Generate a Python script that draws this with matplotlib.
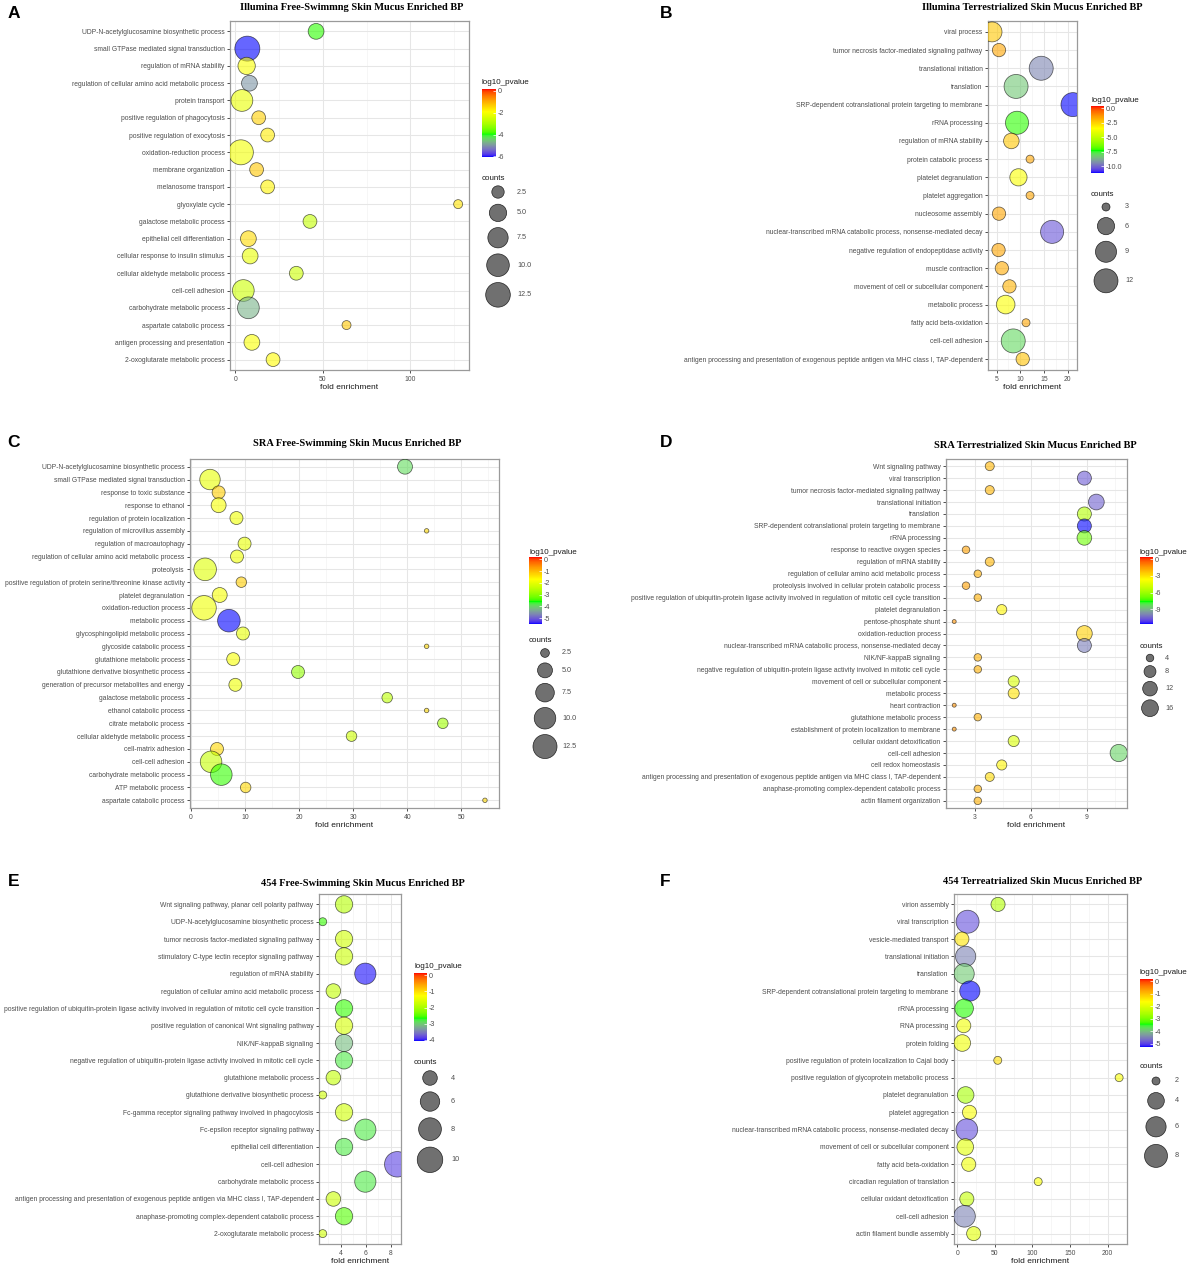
import numpy as np
import matplotlib
matplotlib.use("Agg")
import matplotlib.pyplot as plt
from matplotlib.colors import ListedColormap, Normalize
from matplotlib.cm import ScalarMappable

plt.rcParams['font.family'] = ['Liberation Sans', 'DejaVu Sans']
plt.rcParams['axes.unicode_minus'] = False

W, H, DPI = 1192, 1268, 100

# ---------------- data ----------------
A_terms = ["UDP-N-acetylglucosamine biosynthetic process", "small GTPase mediated signal transduction",
           "regulation of mRNA stability", "regulation of cellular amino acid metabolic process",
           "protein transport", "positive regulation of phagocytosis", "positive regulation of exocytosis",
           "oxidation-reduction process", "membrane organization", "melanosome transport", "glyoxylate cycle",
           "galactose metabolic process", "epithelial cell differentiation", "cellular response to insulin stimulus",
           "cellular aldehyde metabolic process", "cell-cell adhesion", "carbohydrate metabolic process",
           "aspartate catabolic process", "antigen processing and presentation", "2-oxoglutarate metabolic process"]
A_fold = [46.1, 6.8, 6.4, 8.0, 3.7, 13.3, 18.4, 3.1, 12.1, 18.4, 127.3, 42.6, 7.4, 8.4, 34.8, 4.5, 7.4, 63.5, 9.4, 21.5]
A_counts = [4, 13, 5, 4, 9, 3, 3, 13, 3, 3, 2, 3, 4, 4, 3, 9, 9, 2, 4, 3]
A_logp = [-3.9, -6.05, -2.0, -5.0, -2.2, -1.4, -1.7, -2.1, -1.3, -1.8, -1.6, -2.7, -1.5, -2.2, -2.6, -2.6, -4.7, -1.3, -2.0, -1.9]

B_terms = ["viral process", "tumor necrosis factor-mediated signaling pathway", "translational initiation", "translation",
           "SRP-dependent cotranslational protein targeting to membrane", "rRNA processing",
           "regulation of mRNA stability", "protein catabolic process", "platelet degranulation", "platelet aggregation",
           "nucleosome assembly", "nuclear-transcribed mRNA catabolic process, nonsense-mediated decay",
           "negative regulation of endopeptidase activity", "muscle contraction",
           "movement of cell or subcellular component", "metabolic process", "fatty acid beta-oxidation",
           "cell-cell adhesion",
           "antigen processing and presentation of exogenous peptide antigen via MHC class I, TAP-dependent"]
B_fold = [4.03, 5.5, 14.4, 9.1, 21.1, 9.3, 8.1, 12.05, 9.6, 12.05, 5.5, 16.7, 5.4, 6.1, 7.7, 6.9, 11.2, 8.5, 10.5]
B_counts = [8, 4, 12, 12, 12, 11, 5, 3, 6, 3, 4, 11, 4, 4, 4, 7, 3, 12, 4]
B_logp = [-2.3, -1.6, -9.5, -8.3, -11.2, -7.2, -2.3, -1.6, -3.6, -1.6, -1.6, -10.3, -1.6, -1.7, -1.9, -3.5, -1.6, -8.0, -2.2]

C_terms = ["UDP-N-acetylglucosamine biosynthetic process", "small GTPase mediated signal transduction",
           "response to toxic substance", "response to ethanol", "regulation of protein localization",
           "regulation of microvillus assembly", "regulation of macroautophagy",
           "regulation of cellular amino acid metabolic process", "proteolysis",
           "positive regulation of protein serine/threonine kinase activity", "platelet degranulation",
           "oxidation-reduction process", "metabolic process", "glycosphingolipid metabolic process",
           "glycoside catabolic process", "glutathione metabolic process", "glutathione derivative biosynthetic process",
           "generation of precursor metabolites and energy", "galactose metabolic process", "ethanol catabolic process",
           "citrate metabolic process", "cellular aldehyde metabolic process", "cell-matrix adhesion",
           "cell-cell adhesion", "carbohydrate metabolic process", "ATP metabolic process", "aspartate catabolic process"]
C_fold = [39.6, 3.5, 5.1, 5.1, 8.4, 43.6, 9.9, 8.5, 2.6, 9.3, 5.3, 2.4, 7.0, 9.6, 43.6, 7.8, 19.8, 8.2, 36.3, 43.6,
          46.6, 29.7, 4.8, 3.7, 5.6, 10.1, 54.4]
C_counts = [5, 9, 4, 5, 4, 2, 4, 4, 11, 3, 5, 13, 11, 4, 2, 4, 4, 4, 3, 2, 3, 3, 4, 10, 10, 3, 2]
C_logp = [-3.9, -2.0, -1.2, -1.8, -1.9, -1.3, -2.0, -1.9, -2.1, -1.2, -1.8, -1.9, -5.5, -2.0, -1.3, -1.8, -2.9, -1.9,
          -2.5, -1.3, -2.8, -2.3, -1.3, -2.4, -3.5, -1.3, -1.3]

D_terms = ["Wnt signaling pathway", "viral transcription", "tumor necrosis factor-mediated signaling pathway",
           "translational initiation", "translation", "SRP-dependent cotranslational protein targeting to membrane",
           "rRNA processing", "response to reactive oxygen species", "regulation of mRNA stability",
           "regulation of cellular amino acid metabolic process",
           "proteolysis involved in cellular protein catabolic process",
           "positive regulation of ubiquitin-protein ligase activity involved in regulation of mitotic cell cycle transition",
           "platelet degranulation", "pentose-phosphate shunt", "oxidation-reduction process",
           "nuclear-transcribed mRNA catabolic process, nonsense-mediated decay", "NIK/NF-kappaB signaling",
           "negative regulation of ubiquitin-protein ligase activity involved in mitotic cell cycle",
           "movement of cell or subcellular component", "metabolic process", "heart contraction",
           "glutathione metabolic process", "establishment of protein localization to membrane",
           "cellular oxidant detoxification", "cell-cell adhesion", "cell redox homeostasis",
           "antigen processing and presentation of exogenous peptide antigen via MHC class I, TAP-dependent",
           "anaphase-promoting complex-dependent catabolic process", "actin filament organization"]
D_fold = [3.8, 8.86, 3.8, 9.5, 8.86, 8.86, 8.86, 2.53, 3.8, 3.16, 2.53, 3.16, 4.44, 1.9, 8.86, 8.86, 3.16, 3.16,
          5.08, 5.08, 1.9, 3.16, 1.9, 5.08, 10.7, 4.44, 3.8, 3.16, 3.16]
D_counts = [5, 11, 5, 14, 11, 11, 12, 4, 5, 4, 4, 4, 6, 3, 14, 11, 4, 4, 7, 7, 3, 4, 3, 7, 17, 6, 5, 4, 4]
D_logp = [-2.0, -10.6, -2.0, -10.5, -5.5, -11.6, -6.8, -1.6, -2.0, -1.9, -1.6, -1.9, -3.4, -1.3, -2.6, -10.0, -1.9,
          -1.9, -4.6, -3.0, -1.3, -1.9, -1.3, -4.6, -8.4, -3.4, -2.8, -1.9, -1.9]

E_terms = ["Wnt signaling pathway, planar cell polarity pathway", "UDP-N-acetylglucosamine biosynthetic process",
           "tumor necrosis factor-mediated signaling pathway", "stimulatory C-type lectin receptor signaling pathway",
           "regulation of mRNA stability", "regulation of cellular amino acid metabolic process",
           "positive regulation of ubiquitin-protein ligase activity involved in regulation of mitotic cell cycle transition",
           "positive regulation of canonical Wnt signaling pathway", "NIK/NF-kappaB signaling",
           "negative regulation of ubiquitin-protein ligase activity involved in mitotic cell cycle",
           "glutathione metabolic process", "glutathione derivative biosynthetic process",
           "Fc-gamma receptor signaling pathway involved in phagocytosis", "Fc-epsilon receptor signaling pathway",
           "epithelial cell differentiation", "cell-cell adhesion", "carbohydrate metabolic process",
           "antigen processing and presentation of exogenous peptide antigen via MHC class I, TAP-dependent",
           "anaphase-promoting complex-dependent catabolic process", "2-oxoglutarate metabolic process"]
E_fold = [4.25, 2.55, 4.25, 4.25, 5.95, 3.4, 4.25, 4.25, 4.25, 4.25, 3.4, 2.55, 4.25, 5.95, 4.25, 8.5, 5.95, 3.4, 4.25, 2.55]
E_counts = [5, 3, 5, 5, 7, 4, 5, 5, 5, 5, 4, 3, 5, 7, 5, 10, 7, 4, 5, 3]
E_logp = [-1.9, -2.6, -1.7, -1.75, -4.05, -1.8, -2.6, -1.65, -3.1, -2.8, -1.8, -1.7, -1.7, -2.8, -2.8, -3.85, -2.8,
          -1.75, -2.5, -1.7]

F_terms = ["virion assembly", "viral transcription", "vesicle-mediated transport", "translational initiation",
           "translation", "SRP-dependent cotranslational protein targeting to membrane", "rRNA processing",
           "RNA processing", "protein folding", "positive regulation of protein localization to Cajal body",
           "positive regulation of glycoprotein metabolic process", "platelet degranulation", "platelet aggregation",
           "nuclear-transcribed mRNA catabolic process, nonsense-mediated decay",
           "movement of cell or subcellular component", "fatty acid beta-oxidation",
           "circadian regulation of translation", "cellular oxidant detoxification", "cell-cell adhesion",
           "actin filament bundle assembly"]
F_fold = [54.2, 13.7, 6.1, 11.1, 9.1, 16.7, 9.1, 8.6, 6.6, 53.8, 215.2, 11.1, 16.2, 12.7, 10.6, 15.2, 107.6, 12.7,
          9.6, 21.8]
F_counts = [3, 8, 3, 6, 6, 6, 5, 3, 4, 2, 2, 4, 3, 7, 4, 3, 2, 3, 7, 3]
F_logp = [-2.5, -4.9, -1.4, -4.5, -3.9, -5.27, -3.4, -1.8, -1.8, -1.3, -1.7, -2.6, -1.7, -4.9, -2.0, -1.8, -1.7,
          -2.3, -4.5, -2.0]

titles = ["Illumina Free-Swimmng Skin Mucus Enriched BP", "Illumina Terrestrialized Skin Mucus Enriched BP",
          "SRA Free-Swimming Skin Mucus Enriched BP", "SRA Terrestrialized Skin Mucus Enriched BP",
          "454 Free-Swimming Skin Mucus Enriched BP", "454 Terreatrialized Skin Mucus Enriched BP"]
letters = ["A", "B", "C", "D", "E", "F"]

x_ticks = [[0, 50, 100], [5, 10, 15, 20], [0, 10, 20, 30, 40, 50], [3, 6, 9], [4, 6, 8], [0, 50, 100, 150, 200]]
size_breaks = [[2.5, 5.0, 7.5, 10.0, 12.5], [3, 6, 9, 12], [2.5, 5.0, 7.5, 10.0, 12.5], [4, 8, 12, 16],
               [4, 6, 8, 10], [2, 4, 6, 8]]
size_break_labels = [["2.5", "5.0", "7.5", "10.0", "12.5"], ["3", "6", "9", "12"],
                     ["2.5", "5.0", "7.5", "10.0", "12.5"], ["4", "8", "12", "16"], ["4", "6", "8", "10"],
                     ["2", "4", "6", "8"]]
color_ticks = [[0, -2, -4, -6], [0.0, -2.5, -5.0, -7.5, -10.0], [0, -1, -2, -3, -4, -5], [0, -3, -6, -9],
               [0, -1, -2, -3, -4], [0, -1, -2, -3, -4, -5]]
color_tick_labels = [["0", "-2", "-4", "-6"], ["0.0", "-2.5", "-5.0", "-7.5", "-10.0"],
                     ["0", "-1", "-2", "-3", "-4", "-5"], ["0", "-3", "-6", "-9"], ["0", "-1", "-2", "-3", "-4"],
                     ["0", "-1", "-2", "-3", "-4", "-5"]]
color_limits = [(-6.05, 0.15), (-11.2, 0.4), (-5.5, 0.2), (-11.6, 0.4), (-4.08, 0.15), (-5.27, 0.2)]

panels_data = [
    (A_terms, A_fold, A_counts, A_logp),
    (B_terms, B_fold, B_counts, B_logp),
    (C_terms, C_fold, C_counts, C_logp),
    (D_terms, D_fold, D_counts, D_logp),
    (E_terms, E_fold, E_counts, E_logp),
    (F_terms, F_fold, F_counts, F_logp),
]

# ---------------- layout (pixels) ----------------
layout = [
    dict(box=(230, 21, 469, 370), title=(352, 7), letter=(14, 13), ctitle=(482, 83), cbar=(482, 89, 496, 157),
         stitle=(482, 178), kx=498, ky0=192, lx=517, gap=6, dmin=9, dmax=25),
    dict(box=(988, 21, 1077, 370), title=(1032, 7), letter=(666, 13), ctitle=(1091, 100), cbar=(1091, 106, 1104, 173),
         stitle=(1091, 194), kx=1106, ky0=207, lx=1125, gap=6.5, dmin=8, dmax=24),
    dict(box=(190, 459, 499, 808), title=(357, 443), letter=(14, 442), ctitle=(529, 552), cbar=(529, 557, 542, 624),
         stitle=(529, 641), kx=545, ky0=653, lx=562, gap=5.5, dmin=4.5, dmax=24.5),
    dict(box=(946, 459, 1127, 808), title=(1035, 445), letter=(666, 442), ctitle=(1140, 552),
         cbar=(1140, 557, 1153, 624), stitle=(1140, 646), kx=1150, ky0=658, lx=1165, gap=3.8, dmin=4, dmax=17.3),
    dict(box=(319, 894, 401, 1244), title=(363, 883), letter=(14, 882), ctitle=(414, 967), cbar=(414, 973, 427, 1041),
         stitle=(414, 1062), kx=430, ky0=1078, lx=451, gap=6.5, dmin=8, dmax=25.5),
    dict(box=(954, 894, 1127, 1244), title=(1043, 881), letter=(665, 882), ctitle=(1140, 973),
         cbar=(1140, 979, 1153, 1047), stitle=(1140, 1067), kx=1156, ky0=1081, lx=1175, gap=7.5, dmin=8, dmax=23),
]

# ---------------- colour scale: Lab interpolation blue-green-yellow-red ----------------
_M = np.array([[0.4124564, 0.3575761, 0.1804375],
               [0.2126729, 0.7151522, 0.0721750],
               [0.0193339, 0.1191920, 0.9503041]])
_WP = np.array([0.95047, 1.0, 1.08883])


def srgb_to_lab(rgb):
    rgb = np.asarray(rgb, float)
    lin = np.where(rgb <= 0.04045, rgb / 12.92, ((rgb + 0.055) / 1.055) ** 2.4)
    xyz = lin @ _M.T / _WP
    d = 6 / 29
    f = np.where(xyz > d ** 3, np.cbrt(xyz), xyz / (3 * d * d) + 4 / 29)
    return np.stack([116 * f[..., 1] - 16, 500 * (f[..., 0] - f[..., 1]), 200 * (f[..., 1] - f[..., 2])], -1)


def lab_to_srgb(lab):
    L, a, b = lab[..., 0], lab[..., 1], lab[..., 2]
    fy = (L + 16) / 116
    fx = fy + a / 500
    fz = fy - b / 200
    d = 6 / 29

    def finv(t):
        return np.where(t > d, t ** 3, 3 * d * d * (t - 4 / 29))
    xyz = np.stack([finv(fx), finv(fy), finv(fz)], -1) * _WP
    lin = np.clip(xyz @ np.linalg.inv(_M).T, 0, 1)
    rgb = np.where(lin <= 0.0031308, 12.92 * lin, 1.055 * lin ** (1 / 2.4) - 0.055)
    return np.clip(rgb, 0, 1)


anchors = np.array([[0, 0, 1], [0, 1, 0], [1, 1, 0], [1, 0, 0]], float)
labs = srgb_to_lab(anchors)
tt = np.linspace(0, 1, 256)
seg = np.minimum((tt * 3).astype(int), 2)
frac = tt * 3 - seg
lab_vals = labs[seg] * (1 - frac)[:, None] + labs[seg + 1] * frac[:, None]
cmap = ListedColormap(lab_to_srgb(lab_vals))


def diam(counts, cmin, cmax, dmin, dmax):
    t = np.clip((np.asarray(counts, float) - cmin) / (cmax - cmin), 0, 1)
    return dmin + (dmax - dmin) * np.sqrt(t)


def px_rect(L, T, R, B):
    return [L / W, 1 - B / H, (R - L) / W, (B - T) / H]


fig = plt.figure(figsize=(W / DPI, H / DPI), dpi=DPI)
fig.patch.set_facecolor('white')

LABEL_COL = '#4D4D4D'
for i, ((terms, fold, counts, logp), lay) in enumerate(zip(panels_data, layout)):
    ax = fig.add_axes(px_rect(*lay['box']))
    n = len(terms)
    yv = np.arange(n)[::-1]
    x = np.asarray(fold, float)
    pad = 0.05 * (x.max() - x.min())
    x_lo, x_hi = x.min() - pad, x.max() + pad
    cmin, cmax = min(counts), max(counts)
    d = diam(counts, cmin, cmax, lay['dmin'], lay['dmax'])
    norm = Normalize(*color_limits[i])
    fc = cmap(norm(np.asarray(logp)))
    fc[:, 3] = 0.6
    ax.scatter(x, yv, s=(d * 0.72) ** 2, c=fc, edgecolors=(0, 0, 0, 0.6), linewidths=0.55, zorder=3)

    ax.set_yticks(yv)
    ax.set_yticklabels(terms)
    xt = x_ticks[i]
    ax.set_xticks(xt)
    step = xt[1] - xt[0]
    minors = np.arange(xt[0] - step / 2, xt[-1] + step, step)
    minors = minors[(minors > x_lo) & (minors < x_hi)]
    ax.set_xticks(minors, minor=True)
    ax.set_xlim(x_lo, x_hi)
    ax.set_ylim(-0.6, n - 1 + 0.6)
    ax.grid(which='major', color='#E6E6E6', linewidth=0.75)
    ax.grid(which='minor', axis='x', color='#F2F2F2', linewidth=0.45)
    ax.set_axisbelow(True)
    ax.tick_params(which='major', length=2.5, width=0.6, color='#333333', labelsize=4.9,
                   labelcolor=LABEL_COL, pad=1.5)
    ax.tick_params(which='minor', length=0)
    for sp in ax.spines.values():
        sp.set_color('#9A9A9A')
        sp.set_linewidth(0.9)
    ax.set_xlabel('fold enrichment', fontsize=6, color='#1A1A1A', labelpad=1)

    fig.text(lay['title'][0] / W, 1 - lay['title'][1] / H, titles[i], ha='center', va='center',
             family=['Liberation Serif', 'DejaVu Serif'], weight='bold', fontsize=7.5)
    fig.text(lay['letter'][0] / W, 1 - lay['letter'][1] / H, letters[i], ha='center', va='center',
             weight='bold', fontsize=12.5)

    # colour bar
    cax = fig.add_axes(px_rect(*lay['cbar']))
    cb = fig.colorbar(ScalarMappable(norm=norm, cmap=cmap), cax=cax)
    cb.outline.set_visible(False)
    cb.set_ticks(color_ticks[i], labels=color_tick_labels[i])
    cax.tick_params(length=2, width=0.5, color='white', direction='in', labelsize=5.2,
                    labelcolor=LABEL_COL, pad=1.5)
    fig.text(lay['ctitle'][0] / W, 1 - lay['ctitle'][1] / H, 'log10_pvalue', ha='left', va='center',
             fontsize=5.8, color='#1A1A1A')

    # size legend
    fig.text(lay['stitle'][0] / W, 1 - lay['stitle'][1] / H, 'counts', ha='left', va='center',
             fontsize=5.8, color='#1A1A1A')
    br = size_breaks[i]
    kd = diam(br, cmin, cmax, lay['dmin'], lay['dmax'])
    ky = [lay['ky0']]
    for k in range(1, len(br)):
        ky.append(ky[-1] + (kd[k - 1] + kd[k]) / 2 + lay['gap'])
    lax = fig.add_axes([0, 0, 1, 1])
    lax.set_xlim(0, W)
    lax.set_ylim(H, 0)
    lax.axis('off')
    lax.patch.set_alpha(0)
    lax.scatter([lay['kx']] * len(br), ky, s=(kd * 0.72) ** 2, facecolors=(0.2, 0.2, 0.2, 0.7),
                edgecolors=(0, 0, 0, 0.8), linewidths=0.5, clip_on=False)
    for lab, yy in zip(size_break_labels[i], ky):
        lax.text(lay['lx'], yy, lab, ha='left', va='center', fontsize=5.2, color=LABEL_COL)

fig.savefig('out.png', dpi=DPI, facecolor='white')
